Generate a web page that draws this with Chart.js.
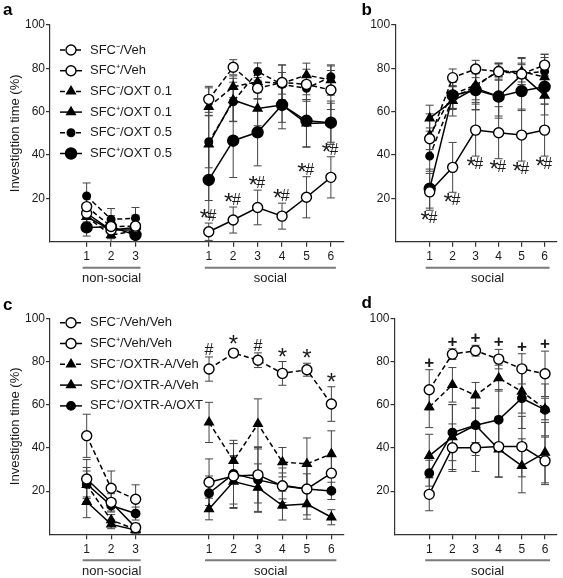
<!DOCTYPE html>
<html>
<head>
<meta charset="utf-8">
<script src="https://cdn.jsdelivr.net/npm/chart.js@4/dist/chart.umd.min.js"></script>
<style>
  body { margin: 0; background: #fff; }
  #fig { position: relative; width: 563px; height: 578px; background: #fff; }
  .panel { position: absolute; }
</style>
</head>
<body>
<div id="fig">
  <div class="panel" style="left:0;top:0;width:350px;height:290px"><canvas id="chartA"></canvas></div>
  <div class="panel" style="left:350px;top:0;width:213px;height:290px"><canvas id="chartB"></canvas></div>
  <div class="panel" style="left:0;top:290px;width:350px;height:288px"><canvas id="chartC"></canvas></div>
  <div class="panel" style="left:350px;top:290px;width:213px;height:288px"><canvas id="chartD"></canvas></div>
</div>
<script>
// ---- axis labels ----
const yTicks = [20, 40, 60, 80, 100];
const nonSocialTicks = ['1', '2', '3'];
const socialTicks = ['1', '2', '3', '4', '5', '6'];
const yTitle = 'Investigtion time (%)';

// ---- panel a / b : OXT groups ----
const oxtNames = ['SFC⁻/Veh', 'SFC⁺/Veh', 'SFC⁻/OXT 0.1', 'SFC⁺/OXT 0.1', 'SFC⁻/OXT 0.5', 'SFC⁺/OXT 0.5'];

const aNonSocial = [
  [16.2, 7.0, 7.2],
  [13.1, 5.4, 6.6],
  [11.5, 3.1, 5.0],
  [11.5, 5.4, 5.4],
  [21.1, 10.3, 10.8],
  [6.6, 6.9, 3.1]
];
const aNonSocialErr = [
  [5, 5, 5],
  [4, 4, 4],
  [4, 3, 3],
  [4, 3, 3],
  [6, 5, 5],
  [4, 3, 3]
];
const aSocial = [
  [65.7, 80.5, 70.8, 73.5, 72.6, 70.0],
  [4.6, 10.0, 15.8, 11.8, 20.5, 29.7],
  [62.3, 71.5, 73.8, 73.1, 76.9, 74.6],
  [45.0, 65.4, 61.5, 63.1, 54.6, 54.9],
  [46.1, 64.6, 78.5, 72.6, 70.8, 76.1],
  [28.5, 46.6, 50.5, 63.1, 55.8, 54.9]
];
const aSocialErr = [
  [6, 3.5, 5, 8, 7, 9],
  [4, 6, 8, 6, 9.5, 9.5],
  [4, 5, 5, 5, 5.5, 7],
  [26, 10, 8, 8, 11, 9],
  [12, 9, 4, 9, 6, 5],
  [17, 17, 15.5, 11, 12, 10]
];
const aMarks = ['*#', '*#', '*#', '*#', '*#', '*#'];

const bSocial = [
  [47.5, 75.7, 79.7, 78.5, 77.4, 81.5],
  [23.0, 34.3, 51.5, 50.3, 49.2, 51.5],
  [49.0, 68.0, 72.3, 78.5, 78.5, 76.0],
  [57.0, 65.0, 70.8, 67.0, 77.0, 67.5],
  [39.5, 66.5, 71.5, 79.2, 77.7, 78.5],
  [24.5, 67.5, 70.0, 67.0, 69.5, 71.5]
];
const bSocialErr = [
  [5, 4, 4, 3.5, 5, 5],
  [8.5, 11.5, 12, 12, 12, 12],
  [10, 7, 8, 4, 6, 9],
  [6, 7, 10, 10, 8, 9],
  [7, 5, 6, 3, 4, 8],
  [9, 6, 9, 9, 9, 8]
];
const bMarks = ['*#', '*#', '*#', '*#', '*#', '*#'];

// ---- panel c / d : OXTR antagonist groups ----
const antNames = ['SFC⁻/Veh/Veh', 'SFC⁺/Veh/Veh', 'SFC⁻/OXTR-A/Veh', 'SFC⁺/OXTR-A/Veh', 'SFC⁺/OXTR-A/OXT'];

const cNonSocial = [
  [45.6, 21.3, 16.2],
  [25.6, 14.8, 3.1],
  [22.9, 6.6, 2.3],
  [15.1, 4.6, 2.0],
  [23.3, 13.3, 9.6]
];
const cNonSocialErr = [
  [10, 8, 6.7],
  [9, 4, 2],
  [8, 2.5, 1.5],
  [7.4, 2, 1.5],
  [6, 3, 3]
];
const cSocial = [
  [76.5, 83.9, 80.6, 74.5, 76.2, 60.3],
  [24.1, 27.0, 27.5, 22.4, 21.0, 28.3],
  [51.8, 34.0, 51.1, 33.4, 32.6, 37.2],
  [11.7, 24.4, 21.6, 13.3, 14.0, 7.9],
  [19.0, 28.0, 25.2, 22.7, 21.0, 20.1]
];
const cSocialErr = [
  [5.6, 1.8, 3.4, 5.5, 3, 8],
  [10.8, 15, 13, 6, 12, 8],
  [9.3, 9.5, 11.6, 6.8, 12, 10.7],
  [5, 12, 11, 6.7, 7, 3.5],
  [8, 14, 15, 8, 7, 4]
];
const cMarks = ['#', '*', '#', '*', '*', '*'];

const dSocial = [
  [66.9, 83.4, 85.0, 81.1, 76.6, 74.3],
  [18.5, 40.1, 40.1, 40.6, 40.6, 34.0],
  [58.9, 69.2, 64.3, 72.3, 66.1, 58.0],
  [36.3, 45.0, 50.5, 39.4, 31.7, 37.8],
  [28.3, 47.1, 50.5, 53.0, 63.0, 57.6]
];
const dSocialErr = [
  [9.3, 2.5, 2.5, 4.5, 7, 10.5],
  [7.6, 11, 11, 14, 14, 11],
  [9.5, 8, 6, 6, 10, 5],
  [10, 15, 14, 13, 12.5, 14],
  [6, 13, 8, 14, 14, 12]
];
const dMarks = ['+', '+', '+', '+', '+', '+'];

// ---- styles ----
const FONT = "'Liberation Sans', Arial, Helvetica, sans-serif";
const INK = '#1a1a1a';
const oxtStyles = [
  { shape: 'circle', r: 5, open: true, dash: true },
  { shape: 'circle', r: 5, open: true, dash: false },
  { shape: 'triangle', r: 5, open: false, dash: true },
  { shape: 'triangle', r: 5, open: false, dash: false },
  { shape: 'circle', r: 3.8, open: false, dash: true },
  { shape: 'circle', r: 5.5, open: false, dash: false }
];
const antStyles = [
  { shape: 'circle', r: 5, open: true, dash: true },
  { shape: 'circle', r: 5, open: true, dash: false },
  { shape: 'triangle', r: 5, open: false, dash: true },
  { shape: 'triangle', r: 5, open: false, dash: false },
  { shape: 'circle', r: 4.2, open: false, dash: false }
];

// error bars drawn under the lines/markers
const errorBarPlugin = {
  id: 'errorBars',
  beforeDatasetsDraw(chart) {
    const ctx = chart.ctx;
    const y = chart.scales.y;
    ctx.save();
    ctx.strokeStyle = '#444';
    ctx.lineWidth = 1;
    chart.data.datasets.forEach((ds, i) => {
      const meta = chart.getDatasetMeta(i);
      meta.data.forEach((pt, j) => {
        const v = ds.data[j], e = ds.errors[j];
        if (v == null || e == null) return;
        const top = y.getPixelForValue(v + e);
        const bot = y.getPixelForValue(Math.max(0, v - e));
        ctx.beginPath();
        ctx.moveTo(pt.x, top); ctx.lineTo(pt.x, bot);
        ctx.moveTo(pt.x - 4, top); ctx.lineTo(pt.x + 4, top);
        ctx.moveTo(pt.x - 4, bot); ctx.lineTo(pt.x + 4, bot);
        ctx.stroke();
      });
    });
    ctx.restore();
  }
};

// significance marks (*, #, +) next to one series
const markFonts = {
  '*': { size: 24, dy: 5, weight: 'normal' },
  '#': { size: 16, dy: 0, weight: 'normal' },
  '+': { size: 17, dy: 0, weight: 'bold' }
};
const marksPlugin = {
  id: 'marks',
  afterDatasetsDraw(chart, args, opts) {
    if (!opts.texts) return;
    const ctx = chart.ctx;
    const y = chart.scales.y;
    const ds = chart.data.datasets[opts.dataset];
    const meta = chart.getDatasetMeta(opts.dataset);
    ctx.save();
    ctx.fillStyle = INK;
    ctx.textBaseline = 'alphabetic';
    ctx.textAlign = 'left';
    opts.texts.forEach((t, k) => {
      if (!t) return;
      const j = opts.start + k;
      const v = ds.data[j], e = ds.errors[j];
      const x = meta.data[j].x;
      const base = opts.below
        ? y.getPixelForValue(v - e) + 13
        : y.getPixelForValue(v + e) - 2;
      const chars = t.split('');
      const widths = chars.map(c => {
        const f = markFonts[c];
        ctx.font = f.weight + ' ' + f.size + 'px ' + FONT;
        return ctx.measureText(c).width;
      });
      let cx = x - widths.reduce((a, b) => a + b, 0) / 2;
      chars.forEach((c, n) => {
        const f = markFonts[c];
        ctx.font = f.weight + ' ' + f.size + 'px ' + FONT;
        ctx.fillText(c, cx, base + f.dy);
        cx += widths[n] - (c === '*' ? 1.5 : 0);
      });
    });
    ctx.restore();
  }
};

// line-sample legend inside the plot
const lineLegendPlugin = {
  id: 'lineLegend',
  afterDraw(chart, args, opts) {
    if (!opts.display) return;
    const ctx = chart.ctx;
    chart.data.datasets.forEach((ds, i) => {
      const yy = opts.top + i * opts.gap;
      ctx.save();
      ctx.strokeStyle = '#000';
      ctx.lineWidth = ds.borderWidth;
      ctx.setLineDash(ds.borderDash || []);
      ctx.beginPath();
      ctx.moveTo(opts.left, yy);
      ctx.lineTo(opts.left + 22, yy);
      ctx.stroke();
      ctx.setLineDash([]);
      ctx.fillStyle = ds.pointBackgroundColor;
      ctx.lineWidth = ds.pointBorderWidth;
      Chart.helpers.drawPoint(ctx, {
        pointStyle: ds.pointStyle, radius: ds.pointRadius,
        borderWidth: ds.pointBorderWidth, rotation: 0
      }, opts.left + 11, yy);
      ctx.fillStyle = INK;
      ctx.font = '13px ' + FONT;
      ctx.textBaseline = 'middle';
      ctx.fillText(ds.label, opts.textX, yy);
      ctx.restore();
    });
  }
};

// underlined group names below the x axis + panel letter
const groupPlugin = {
  id: 'groups',
  afterDraw(chart, args, opts) {
    const ctx = chart.ctx;
    const xs = chart.scales.x;
    const base = chart.chartArea.bottom;
    ctx.save();
    (opts.groups || []).forEach(g => {
      const x0 = xs.getPixelForValue(g.from) - 4;
      const x1 = xs.getPixelForValue(g.to) + 5;
      ctx.strokeStyle = '#7a7a7a';
      ctx.lineWidth = 2;
      ctx.beginPath();
      ctx.moveTo(x0, base + 26);
      ctx.lineTo(x1, base + 26);
      ctx.stroke();
      ctx.fillStyle = INK;
      ctx.font = '13px ' + FONT;
      ctx.textAlign = 'center';
      ctx.textBaseline = 'middle';
      ctx.fillText(g.label, (x0 + x1) / 2, base + 37);
    });
    if (opts.letter) {
      ctx.fillStyle = '#000';
      ctx.font = 'bold 17px ' + FONT;
      ctx.textAlign = 'left';
      ctx.textBaseline = 'alphabetic';
      ctx.fillText(opts.letter.text, opts.letter.x, opts.letter.y);
    }
    ctx.restore();
  }
};

function makePanel(id, cfg) {
  const split = !!cfg.ns;
  const lead = split ? ['', ...nonSocialTicks, '', ''] : [''];
  const labels = [...lead, ...socialTicks];
  const socialStart = lead.length;
  const pad = (nsArr, socArr) => split
    ? [null, ...nsArr, null, null, ...socArr]
    : [null, ...socArr];

  const datasets = cfg.names.map((name, i) => {
    const st = cfg.styles[i];
    return {
      label: name,
      data: pad(split ? cfg.ns[i] : [], cfg.soc[i]),
      errors: pad(split ? cfg.nsErr[i] : [], cfg.socErr[i]),
      borderColor: '#000',
      borderWidth: 1.5,
      borderDash: st.dash ? [5, 3] : [],
      pointStyle: st.shape,
      pointRadius: st.r,
      pointBackgroundColor: st.open ? '#fff' : '#000',
      pointBorderColor: '#000',
      pointBorderWidth: 1.4,
      fill: false,
      tension: 0,
      spanGaps: false
    };
  });

  const groups = [];
  if (split) groups.push({ label: 'non-social', from: 1, to: nonSocialTicks.length });
  groups.push({ label: 'social', from: socialStart, to: socialStart + socialTicks.length - 1 });

  new Chart(document.getElementById(id), {
    type: 'line',
    data: { labels, datasets },
    options: {
      responsive: true,
      maintainAspectRatio: false,
      animation: false,
      events: [],
      layout: { padding: cfg.padding },
      plugins: {
        legend: { display: false },
        tooltip: { enabled: false },
        lineLegend: cfg.legend || { display: false },
        marks: { texts: cfg.marks, dataset: cfg.markSeries, start: socialStart, below: !!cfg.marksBelow },
        groups: { groups, letter: cfg.letter }
      },
      scales: {
        x: {
          type: 'category',
          offset: true,
          ticks: { autoSkip: false, maxRotation: 0, padding: 3, color: INK, font: { family: FONT, size: 12 } },
          grid: {
            drawOnChartArea: false, tickLength: 5, lineWidth: 1.2,
            color: c => (c.tick && c.tick.label) ? '#333' : 'rgba(0,0,0,0)'
          },
          border: { color: '#333', width: 1.2 },
          afterFit: s => { s.height = cfg.xHeight; }
        },
        y: {
          min: 0, max: 100,
          afterBuildTicks: s => { s.ticks = yTicks.map(v => ({ value: v })); },
          ticks: { padding: 1, color: INK, font: { family: FONT, size: 12 } },
          grid: { drawOnChartArea: false, tickLength: 4, lineWidth: 1.2, color: '#333' },
          border: { color: '#333', width: 1.2 },
          title: {
            display: !!cfg.yTitle, text: yTitle, color: INK,
            font: { family: FONT, size: 13 }, padding: { top: 8, bottom: 0 }
          },
          afterFit: s => { s.width = cfg.yWidth; }
        }
      }
    },
    plugins: [errorBarPlugin, marksPlugin, lineLegendPlugin, groupPlugin]
  });
}

makePanel('chartA', {
  names: oxtNames, styles: oxtStyles,
  ns: aNonSocial, nsErr: aNonSocialErr, soc: aSocial, socErr: aSocialErr,
  marks: aMarks, markSeries: 1, yTitle: true,
  padding: { top: 25, right: 2.4, left: 0, bottom: 0 }, yWidth: 50, xHeight: 48.3,
  legend: { display: true, left: 60, top: 50, gap: 20.7, textX: 90 },
  letter: { text: 'a', x: 3, y: 15 }
});
makePanel('chartB', {
  names: oxtNames, styles: oxtStyles,
  soc: bSocial, socErr: bSocialErr,
  marks: bMarks, markSeries: 1, marksBelow: true,
  padding: { top: 25, right: 2, left: 0, bottom: 0 }, yWidth: 45.2, xHeight: 48.3,
  letter: { text: 'b', x: 11.5, y: 15 }
});
makePanel('chartC', {
  names: antNames, styles: antStyles,
  ns: cNonSocial, nsErr: cNonSocialErr, soc: cSocial, socErr: cSocialErr,
  marks: cMarks, markSeries: 0, yTitle: true,
  padding: { top: 28.3, right: 2.4, left: 0, bottom: 0 }, yWidth: 50, xHeight: 43.7,
  legend: { display: true, left: 60, top: 32.7, gap: 20.8, textX: 90 },
  letter: { text: 'c', x: 3, y: 20 }
});
makePanel('chartD', {
  names: antNames, styles: antStyles,
  soc: dSocial, socErr: dSocialErr,
  marks: dMarks, markSeries: 0,
  padding: { top: 28.3, right: 0.5, left: 0, bottom: 0 }, yWidth: 44.5, xHeight: 43.7,
  letter: { text: 'd', x: 11.5, y: 18 }
});
</script>
</body>
</html>
